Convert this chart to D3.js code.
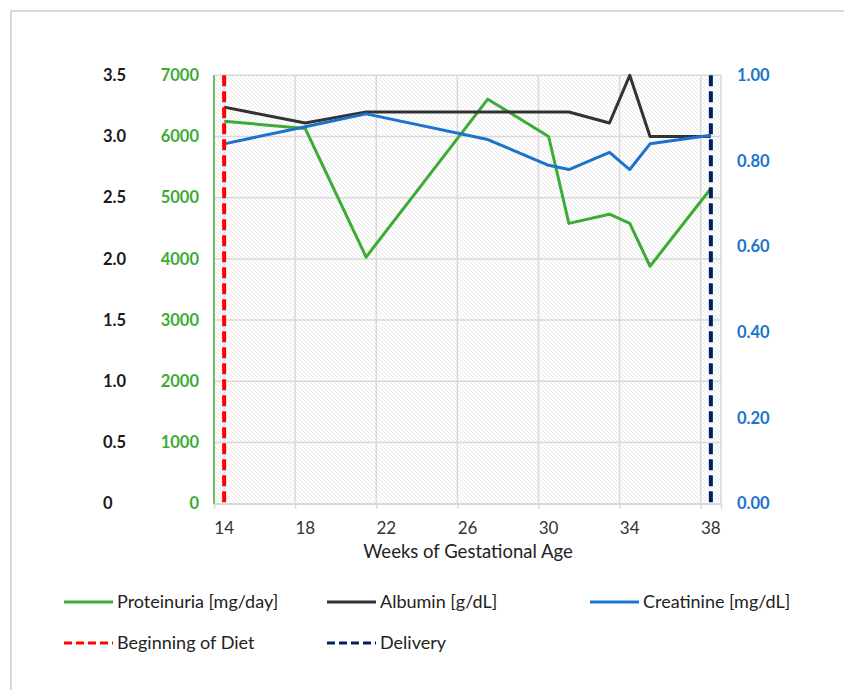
<!DOCTYPE html>
<html>
<head>
<meta charset="utf-8">
<script src="https://cdn.jsdelivr.net/npm/d3@7"></script>
<style>
  body { margin: 0; background: #fff; }
  svg text { font-family: Lato, "Open Sans", sans-serif; }
</style>
</head>
<body>
<div id="chart"></div>
<script>
// data
const weeks = [14, 18, 21, 27, 30, 31, 33, 34, 35, 38];
const proteinuria = [6250, 6130, 4030, 6610, 6000, 4580, 4730, 4580, 3880, 5150];
const albumin = [3.24, 3.11, 3.2, 3.2, 3.2, 3.2, 3.11, 3.5, 3.0, 3.0];
const creatinine = [0.84, 0.88, 0.91, 0.85, 0.79, 0.78, 0.82, 0.78, 0.84, 0.86];
const dietWeek = 14, deliveryWeek = 38;

const xTicks = [14, 18, 22, 26, 30, 34, 38];
const xGrid = [17.5, 21.5, 25.5, 29.5, 33.5, 37.5];
const protTicks = [0, 1000, 2000, 3000, 4000, 5000, 6000, 7000];
const albTicks = [0, 0.5, 1.0, 1.5, 2.0, 2.5, 3.0, 3.5];
const creatTicks = [0, 0.2, 0.4, 0.6, 0.8, 1.0];

const colors = {
  prot: "#3dab35",
  alb: "#333333",
  creat: "#1b74cc",
  diet: "#ff0000",
  delivery: "#00205f"
};

let width = 844, height = 690;
let margin = { top: 75.3, bottom: 186.3, left: 214, right: 123 };

let svg = d3.select("#chart")
  .append("svg")
  .attr("width", width)
  .attr("height", height);

// outer frame (only top and left show)
svg.append("path")
  .attr("d", `M11,${height} V11 H${width}`)
  .attr("fill", "none")
  .attr("stroke", "#d9d9d9")
  .attr("stroke-width", 2);

// scales
let x = d3.scaleLinear()
  .domain([13.5, 38.5])
  .range([margin.left, width - margin.right]);

let yProt = d3.scaleLinear()
  .domain([0, 7000])
  .range([height - margin.bottom, margin.top]);

let yAlb = d3.scaleLinear()
  .domain([0, 3.5])
  .range([height - margin.bottom, margin.top]);

let yCreat = d3.scaleLinear()
  .domain([0, 1])
  .range([height - margin.bottom, margin.top]);

// hatch fill for the plot area
let defs = svg.append("defs");
let pat = defs.append("pattern")
  .attr("id", "hatch")
  .attr("patternUnits", "userSpaceOnUse")
  .attr("width", 4)
  .attr("height", 4);
pat.append("path")
  .attr("d", "M-1,-1 L5,5 M-1,3 L1,5 M3,-1 L5,1")
  .attr("stroke", "#dedede")
  .attr("stroke-width", 0.7);

let x0 = x.range()[0], x1 = x.range()[1];
let yb = yProt.range()[0], yt = yProt.range()[1];

svg.append("rect")
  .attr("x", x0)
  .attr("y", yt)
  .attr("width", x1 - x0)
  .attr("height", yb - yt)
  .attr("fill", "url(#hatch)");

// gridlines
svg.append("g")
  .selectAll("line")
  .data(protTicks)
  .join("line")
  .attr("x1", x0)
  .attr("x2", x1)
  .attr("y1", d => yProt(d))
  .attr("y2", d => yProt(d))
  .attr("stroke", "#d9d9d9")
  .attr("stroke-width", 1.5);

svg.append("g")
  .selectAll("line")
  .data(xGrid.concat([38.5]))
  .join("line")
  .attr("x1", d => x(d))
  .attr("x2", d => x(d))
  .attr("y1", yt)
  .attr("y2", yb)
  .attr("stroke", "#d9d9d9")
  .attr("stroke-width", 1.5);

// x axis: gray line with small ticks at the grid positions
let xAxis = svg.append("g")
  .attr("transform", `translate(0,${yb})`)
  .call(d3.axisBottom(x).tickValues([13.5].concat(xGrid)).tickSize(5).tickFormat(""));
xAxis.select(".domain").attr("stroke", "#d9d9d9").attr("stroke-width", 1.5);
xAxis.selectAll(".tick line").attr("stroke", "#d9d9d9").attr("stroke-width", 1.5);

svg.append("g")
  .selectAll("text")
  .data(xTicks)
  .join("text")
  .attr("x", d => x(d))
  .attr("y", yb + 30)
  .attr("text-anchor", "middle")
  .attr("font-size", 17)
  .attr("fill", "#333")
  .text(d => d);

svg.append("text")
  .attr("x", 468)
  .attr("y", yb + 54)
  .attr("text-anchor", "middle")
  .attr("font-size", 18.5)
  .attr("fill", "#222")
  .text("Weeks of Gestational Age");

// left green axis line
svg.append("line")
  .attr("x1", x0).attr("x2", x0)
  .attr("y1", yt).attr("y2", yb)
  .attr("stroke", colors.prot)
  .attr("stroke-width", 1.5);

// tick labels: albumin (black), proteinuria (green), creatinine (blue)
svg.append("g")
  .selectAll("text")
  .data(albTicks)
  .join("text")
  .attr("x", 103)
  .attr("y", d => yAlb(d))
  .attr("dy", "0.35em")
  .attr("font-size", 16.5)
  .attr("font-weight", "bold")
  .attr("fill", "#1a1a1a")
  .text(d => d === 0 ? "0" : d3.format(".1f")(d));

svg.append("g")
  .selectAll("text")
  .data(protTicks)
  .join("text")
  .attr("x", 199)
  .attr("y", d => yProt(d))
  .attr("dy", "0.35em")
  .attr("text-anchor", "end")
  .attr("font-size", 16.5)
  .attr("font-weight", "bold")
  .attr("fill", colors.prot)
  .text(d => d);

svg.append("g")
  .selectAll("text")
  .data(creatTicks)
  .join("text")
  .attr("x", 737)
  .attr("y", d => yCreat(d))
  .attr("dy", "0.35em")
  .attr("font-size", 16.5)
  .attr("font-weight", "bold")
  .attr("fill", colors.creat)
  .text(d => d3.format(".2f")(d));

// series lines
let series = [
  { values: proteinuria, y: yProt, color: colors.prot },
  { values: albumin, y: yAlb, color: colors.alb },
  { values: creatinine, y: yCreat, color: colors.creat }
];

series.forEach(s => {
  let line = d3.line()
    .x((d, i) => x(weeks[i]))
    .y(d => s.y(d));
  svg.append("path")
    .datum(s.values)
    .attr("d", line)
    .attr("fill", "none")
    .attr("stroke", s.color)
    .attr("stroke-width", 3)
    .attr("stroke-linejoin", "round");
});

// event markers
[[dietWeek, colors.diet], [deliveryWeek, colors.delivery]].forEach(([w, c]) => {
  svg.append("line")
    .attr("x1", x(w)).attr("x2", x(w))
    .attr("y1", yt).attr("y2", yb)
    .attr("stroke", c)
    .attr("stroke-width", 4)
    .attr("stroke-dasharray", "11,5");
});

// legend
const legendItems = [
  { label: "Proteinuria [mg/day]", color: colors.prot, dash: null, x: 64, y: 602 },
  { label: "Albumin [g/dL]", color: colors.alb, dash: null, x: 327, y: 602 },
  { label: "Creatinine [mg/dL]", color: colors.creat, dash: null, x: 590, y: 602 },
  { label: "Beginning of Diet", color: colors.diet, dash: "8,4", x: 64, y: 643 },
  { label: "Delivery", color: colors.delivery, dash: "8,4", x: 327, y: 643 }
];

let legend = svg.selectAll(".legend")
  .data(legendItems)
  .join("g")
  .attr("class", "legend")
  .attr("transform", d => `translate(${d.x},${d.y})`);

legend.append("line")
  .attr("x1", 0).attr("x2", 49)
  .attr("y1", 0).attr("y2", 0)
  .attr("stroke", d => d.color)
  .attr("stroke-width", 3)
  .attr("stroke-dasharray", d => d.dash);

legend.append("text")
  .attr("x", 53)
  .attr("y", 0)
  .attr("dy", "0.35em")
  .attr("font-size", 18)
  .attr("fill", "#222")
  .text(d => d.label);
</script>
</body>
</html>
